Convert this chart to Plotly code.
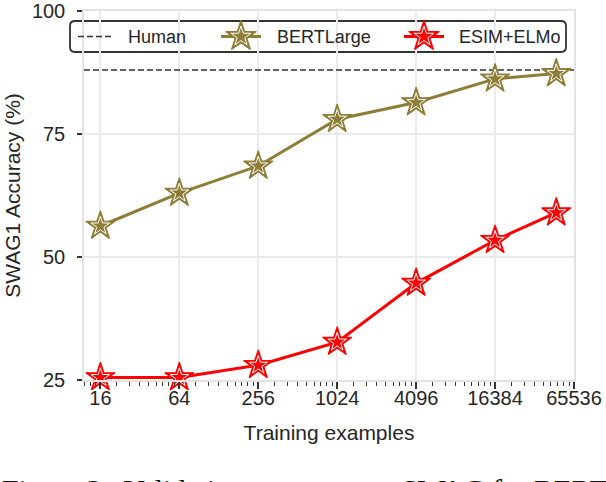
import math
import plotly.graph_objects as go

# ---------------- data ----------------
train_sizes = [16, 64, 256, 1024, 4096, 16384, 48000]
bert_large = [56.3, 63.0, 68.5, 78.0, 81.4, 86.2, 87.3]
esim_elmo = [25.5, 25.5, 28.0, 32.7, 44.7, 53.4, 59.0]
human_acc = 88.0

x_tick_vals = [16, 64, 256, 1024, 4096, 16384, 65536]
x_tick_text = ["16", "64", "256", "1024", "4096", "16384", "65536"]
y_tick_vals = [25, 50, 75, 100]
x_limits = [12, 65536]
y_limits = [25, 100]

series_names = ["Human", "BERTLarge", "ESIM+ELMo"]
caption = "Figure 3:  Validation accuracy on SWAG for BERT"

# ---------------- style ----------------
BERT_C = "#8E7D36"
ESIM_C = "#FF0000"
TXT = "#262626"
GRID = "#EBEBEB"
FONT = "Liberation Sans, Arial, sans-serif"

# figure / plot geometry in pixels (for the hand-drawn legend box)
W, H = 606, 482
ML, MR, MT, MB = 84, 32, 11, 102
PW, PH = W - ML - MR, H - MT - MB


def px_x(p):
    return (p - ML) / PW


def px_y(p):
    return (H - MB - p) / PH


# minor ticks: 8 linear subdivisions between successive major ticks (factor 4)
minor_ticks = []
a = 4
while a < x_limits[1]:
    for k in range(1, 9):
        v = a + k * (3 * a) / 9
        if x_limits[0] <= v <= x_limits[1]:
            minor_ticks.append(v)
    a *= 4

fig = go.Figure()

# Human reference line
fig.add_trace(go.Scatter(
    x=x_limits, y=[human_acc, human_acc], mode="lines",
    line=dict(color="#333333", width=1.5, dash="6px,3px"),
    name=series_names[0], showlegend=False, hoverinfo="skip"))


def star_series(xs, ys, color, name):
    fig.add_trace(go.Scatter(
        x=xs, y=ys, mode="lines+markers", name=name, showlegend=False,
        line=dict(color=color, width=3),
        marker=dict(symbol="star", size=22, color=color,
                    line=dict(color=color, width=1.2)),
        cliponaxis=False))
    fig.add_trace(go.Scatter(
        x=xs, y=ys, mode="markers", showlegend=False, hoverinfo="skip",
        marker=dict(symbol="star-open", size=14, color="white",
                    line=dict(color="white", width=1)),
        cliponaxis=False))


star_series(train_sizes, bert_large, BERT_C, series_names[1])
star_series(train_sizes, esim_elmo, ESIM_C, series_names[2])

# ---------------- custom legend ----------------
bx0, bx1, by0, by1 = px_x(70), px_x(566), px_y(52), px_y(21)
rx, ry = 5 / PW, 5 / PH
path = (f"M{bx0 + rx},{by1} L{bx1 - rx},{by1} Q{bx1},{by1} {bx1},{by1 - ry} "
        f"L{bx1},{by0 + ry} Q{bx1},{by0} {bx1 - rx},{by0} "
        f"L{bx0 + rx},{by0} Q{bx0},{by0} {bx0},{by0 + ry} "
        f"L{bx0},{by1 - ry} Q{bx0},{by1} {bx0 + rx},{by1} Z")
fig.add_shape(type="path", path=path, xref="paper", yref="paper",
              fillcolor="white", line=dict(color="#333333", width=1.8),
              layer="between")

ly = px_y(36.5)
fig.add_shape(type="line", xref="paper", yref="paper",
              x0=px_x(78), x1=px_x(113), y0=ly, y1=ly,
              line=dict(color="#333333", width=1.5, dash="6px,3px"),
              layer="above")

leg_items = [(px_x(241), BERT_C, series_names[1], px_x(275)),
             (px_x(424), ESIM_C, series_names[2], px_x(457))]
for cx, col, nm, tx in leg_items:
    half = 20 / PW
    fig.add_trace(go.Scatter(
        x=[cx - half, cx + half], y=[ly, ly], xaxis="x2", yaxis="y2",
        mode="lines", line=dict(color=col, width=3), showlegend=False,
        hoverinfo="skip", cliponaxis=False))
    fig.add_trace(go.Scatter(
        x=[cx], y=[ly], xaxis="x2", yaxis="y2", mode="markers",
        marker=dict(symbol="star", size=23, color=col,
                    line=dict(color=col, width=1.2)),
        showlegend=False, hoverinfo="skip", cliponaxis=False))
    fig.add_trace(go.Scatter(
        x=[cx], y=[ly], xaxis="x2", yaxis="y2", mode="markers",
        marker=dict(symbol="star-open", size=15, color="white",
                    line=dict(color="white", width=1)),
        showlegend=False, hoverinfo="skip", cliponaxis=False))

fig.add_annotation(text=series_names[0], x=px_x(126), y=ly, xref="paper",
                   yref="paper", xanchor="left", yanchor="middle",
                   showarrow=False, font=dict(family=FONT, size=18, color=TXT))
for cx, col, nm, tx in leg_items:
    fig.add_annotation(text=nm, x=tx, y=ly, xref="paper", yref="paper",
                       xanchor="left", yanchor="middle", showarrow=False,
                       font=dict(family=FONT, size=18, color=TXT))

# caption (cut off at the bottom like the reference)
fig.add_annotation(text=caption, x=px_x(0), y=px_y(471.5), xref="paper",
                   yref="paper", xanchor="left", yanchor="top",
                   showarrow=False,
                   font=dict(family="Liberation Serif, Times New Roman, serif",
                             size=29.5, color="#111111"))

fig.update_layout(
    width=W, height=H,
    margin=dict(l=ML, r=MR, t=MT, b=MB, pad=0, autoexpand=False),
    paper_bgcolor="white", plot_bgcolor="white",
    showlegend=False,
    font=dict(family=FONT, color=TXT),
    xaxis=dict(
        type="log", range=[math.log10(x_limits[0]), math.log10(x_limits[1])],
        automargin=False,
        tickmode="array", tickvals=x_tick_vals, ticktext=x_tick_text,
        ticks="outside", ticklen=7, tickwidth=1.5, tickcolor="#333333",
        ticklabelstandoff=-8,
        tickfont=dict(family=FONT, size=20, color=TXT),
        showgrid=True, gridcolor=GRID, gridwidth=1.5,
        showline=True, linecolor="#E3E3E3", linewidth=1.5, mirror=True,
        zeroline=False,
        minor=dict(tickmode="array", tickvals=minor_ticks, ticks="outside",
                   ticklen=4, tickwidth=1, tickcolor="#333333",
                   showgrid=False),
        title=dict(text="Training examples", standoff=18,
                   font=dict(family=FONT, size=21, color=TXT)),
    ),
    yaxis=dict(
        range=y_limits, tickmode="array", tickvals=y_tick_vals,
        automargin=False,
        ticks="outside", ticklen=5, tickwidth=1.5, tickcolor="#333333",
        ticklabelstandoff=8,
        tickfont=dict(family=FONT, size=20, color=TXT),
        showgrid=True, gridcolor=GRID, gridwidth=1.5,
        showline=True, linecolor="#E3E3E3", linewidth=1.5, mirror=True,
        zeroline=False,
        title=dict(text="SWAG1 Accuracy (%)", standoff=6,
                   font=dict(family=FONT, size=21, color=TXT)),
    ),
    xaxis2=dict(overlaying="x", range=[0, 1], visible=False,
                automargin=False),
    yaxis2=dict(overlaying="y", range=[0, 1], visible=False,
                automargin=False),
)

fig.write_html("out.html",
               config={"displayModeBar": False},
               post_script="document.body.style.margin='0';"
                           "document.body.style.padding='0';")
